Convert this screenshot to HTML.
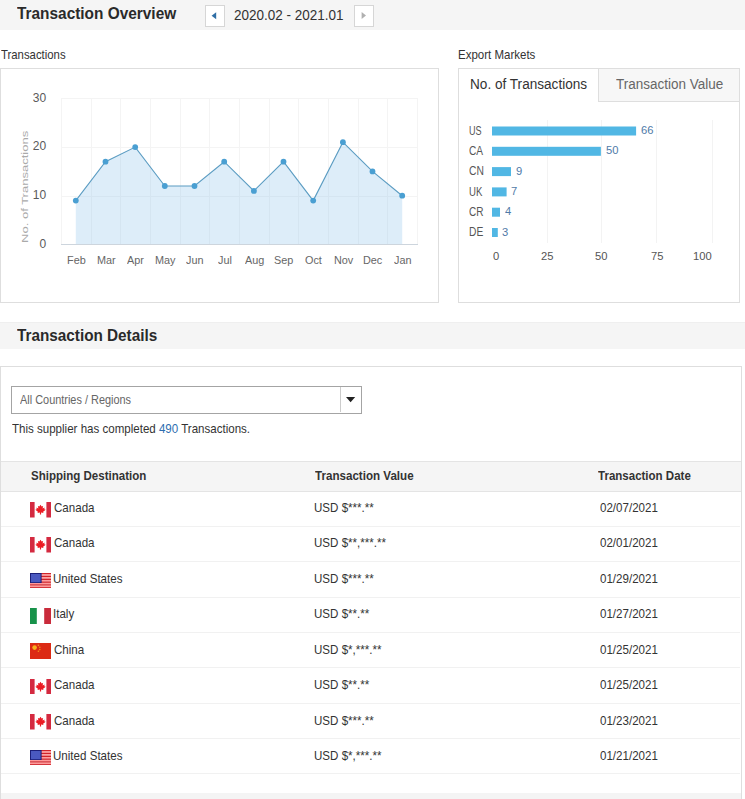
<!DOCTYPE html>
<html><head><meta charset="utf-8">
<style>
*{margin:0;padding:0;box-sizing:border-box}
html,body{width:745px;height:799px;overflow:hidden;background:#fff}
body{position:relative;font-family:"Liberation Sans",sans-serif;color:#333}
.tx{position:absolute;white-space:nowrap;line-height:1;transform-origin:0 0}
.bar{position:absolute;left:0;width:745px;background:#f5f5f5}
.box{position:absolute;border:1px solid #dedede;background:#fff}
.btn{position:absolute;width:20px;height:22px;border:1px solid #d6d6d6;background:#fff}
.row{position:absolute;left:1px;width:739px;height:1px;background:#f1f1f1}
</style></head><body>
<div class="bar" style="top:0;height:30px"></div>
<div class="btn" style="left:205px;top:5px"><svg width="18" height="20" style="position:absolute;left:0;top:0"><path d="M5.6 9.8 L10.2 6.2 L10.2 13.3 Z" fill="#2f6ea5"/></svg></div>
<div class="btn" style="left:354px;top:5px"><svg width="18" height="20" style="position:absolute;left:0;top:0"><path d="M11 9.5 L6.6 6 L6.6 13 Z" fill="#b0b0b0"/></svg></div>
<div class="box" style="left:0;top:68px;width:439px;height:235px"></div>
<svg style="position:absolute;left:0;top:0" width="745" height="320">
<g stroke="#f4f4f4" stroke-width="1"><line x1="61" y1="98.5" x2="418" y2="98.5"/><line x1="61" y1="147.5" x2="418" y2="147.5"/><line x1="61" y1="196.5" x2="418" y2="196.5"/><line x1="61.5" y1="98" x2="61.5" y2="244"/><line x1="91.5" y1="98" x2="91.5" y2="244"/><line x1="120.5" y1="98" x2="120.5" y2="244"/><line x1="150.5" y1="98" x2="150.5" y2="244"/><line x1="180.5" y1="98" x2="180.5" y2="244"/><line x1="209.5" y1="98" x2="209.5" y2="244"/><line x1="239.5" y1="98" x2="239.5" y2="244"/><line x1="269.5" y1="98" x2="269.5" y2="244"/><line x1="298.5" y1="98" x2="298.5" y2="244"/><line x1="328.5" y1="98" x2="328.5" y2="244"/><line x1="358.5" y1="98" x2="358.5" y2="244"/><line x1="387.5" y1="98" x2="387.5" y2="244"/><line x1="417.5" y1="98" x2="417.5" y2="244"/></g>
<polygon points="75.8,244 75.8,200.6 105.5,161.7 135.2,147.1 164.8,186.0 194.5,186.0 224.2,161.7 253.9,190.9 283.5,161.7 313.2,200.6 342.9,142.2 372.5,171.4 402.2,195.7 402.2,244" fill="rgba(124,186,232,0.26)"/>
<polyline points="75.8,200.6 105.5,161.7 135.2,147.1 164.8,186.0 194.5,186.0 224.2,161.7 253.9,190.9 283.5,161.7 313.2,200.6 342.9,142.2 372.5,171.4 402.2,195.7" fill="none" stroke="#5b9cc2" stroke-width="1.1"/>
<line x1="61" y1="244.5" x2="418" y2="244.5" stroke="#cdd5dd" stroke-width="1"/>
<g fill="#4a9fd2"><circle cx="75.8" cy="200.6" r="2.9"/><circle cx="105.5" cy="161.7" r="2.9"/><circle cx="135.2" cy="147.1" r="2.9"/><circle cx="164.8" cy="186.0" r="2.9"/><circle cx="194.5" cy="186.0" r="2.9"/><circle cx="224.2" cy="161.7" r="2.9"/><circle cx="253.9" cy="190.9" r="2.9"/><circle cx="283.5" cy="161.7" r="2.9"/><circle cx="313.2" cy="200.6" r="2.9"/><circle cx="342.9" cy="142.2" r="2.9"/><circle cx="372.5" cy="171.4" r="2.9"/><circle cx="402.2" cy="195.7" r="2.9"/></g>
</svg>
<div class="box" style="left:458px;top:68px;width:282px;height:235px"></div>
<div style="position:absolute;left:598px;top:68px;width:142px;height:34px;background:#f7f7f7;border:1px solid #dedede"></div>
<svg style="position:absolute;left:0;top:0" width="745" height="320">
<g stroke="#f3f3f3" stroke-width="1">
<line x1="547.5" y1="120" x2="547.5" y2="243"/><line x1="601.5" y1="120" x2="601.5" y2="243"/>
<line x1="656.5" y1="120" x2="656.5" y2="243"/><line x1="712.5" y1="120" x2="712.5" y2="243"/></g>
<g fill="#51b7e4"><rect x="492" y="126.5" width="144.1" height="9" /><rect x="492" y="146.8" width="108.9" height="9" /><rect x="492" y="167.1" width="19.0" height="9" /><rect x="492" y="187.4" width="14.6" height="9" /><rect x="492" y="207.7" width="8.0" height="9" /><rect x="492" y="228.0" width="5.8" height="9" /></g>
</svg>
<div class="bar" style="top:322px;height:27px;border-top:1px solid #efefef"></div>
<div class="box" style="left:0;top:366px;width:742px;height:440px"></div>
<div style="position:absolute;left:11px;top:386px;width:351px;height:28px;border:1px solid #a4a4a4;background:#fff"></div>
<div style="position:absolute;left:340px;top:387px;width:1px;height:25px;background:#cccccc"></div>
<svg style="position:absolute;left:346px;top:397px" width="10" height="6"><path d="M0 0 L9.2 0 L4.6 5.2 Z" fill="#222"/></svg>
<div style="position:absolute;left:1px;top:461px;width:740px;height:31px;background:#f5f5f5;border-top:1px solid #e4e4e4;border-bottom:1px solid #e4e4e4"></div>
<div class="row" style="top:526px"></div><div class="row" style="top:561px"></div><div class="row" style="top:597px"></div><div class="row" style="top:632px"></div><div class="row" style="top:667px"></div><div class="row" style="top:703px"></div><div class="row" style="top:738px"></div><div class="row" style="top:773px"></div>
<div style="position:absolute;left:30px;top:502.0px;width:21px;height:16px;line-height:0"><svg viewBox="0 0 21 15.5" width="21" height="15.5"><rect x="0" y="0" width="4.6" height="15.5" fill="#d42a40"/><rect x="16.4" y="0" width="4.6" height="15.5" fill="#d42a40"/><path d="M10.50 2.64 L11.68 4.53 L13.10 3.94 L12.62 6.42 L14.63 5.48 L14.28 7.25 L15.69 7.84 L13.10 9.72 L13.45 10.90 L11.09 10.55 L11.09 12.56 L9.91 12.56 L9.91 10.55 L7.55 10.90 L7.90 9.72 L5.31 7.84 L6.72 7.25 L6.37 5.48 L8.38 6.42 L7.90 3.94 L9.32 4.53 Z" fill="#ec1c24"/></svg></div><div style="position:absolute;left:30px;top:537.4px;width:21px;height:16px;line-height:0"><svg viewBox="0 0 21 15.5" width="21" height="15.5"><rect x="0" y="0" width="4.6" height="15.5" fill="#d42a40"/><rect x="16.4" y="0" width="4.6" height="15.5" fill="#d42a40"/><path d="M10.50 2.64 L11.68 4.53 L13.10 3.94 L12.62 6.42 L14.63 5.48 L14.28 7.25 L15.69 7.84 L13.10 9.72 L13.45 10.90 L11.09 10.55 L11.09 12.56 L9.91 12.56 L9.91 10.55 L7.55 10.90 L7.90 9.72 L5.31 7.84 L6.72 7.25 L6.37 5.48 L8.38 6.42 L7.90 3.94 L9.32 4.53 Z" fill="#ec1c24"/></svg></div><div style="position:absolute;left:30px;top:572.7px;width:21px;height:16px;line-height:0"><svg viewBox="0 0 21 15.5" width="21" height="15.5"><rect x="0" y="0.00" width="21" height="1.46" fill="#d0242a"/><rect x="0" y="1.41" width="21" height="1.46" fill="#ff9a9a"/><rect x="0" y="2.82" width="21" height="1.46" fill="#d0242a"/><rect x="0" y="4.23" width="21" height="1.46" fill="#ff9a9a"/><rect x="0" y="5.64" width="21" height="1.46" fill="#d0242a"/><rect x="0" y="7.05" width="21" height="1.46" fill="#ff9a9a"/><rect x="0" y="8.45" width="21" height="1.46" fill="#d0242a"/><rect x="0" y="9.86" width="21" height="1.46" fill="#ff9a9a"/><rect x="0" y="11.27" width="21" height="1.46" fill="#d0242a"/><rect x="0" y="12.68" width="21" height="1.46" fill="#ff9a9a"/><rect x="0" y="14.09" width="21" height="1.46" fill="#d0242a"/><rect x="0" y="0" width="11.6" height="10" fill="#1c1f78"/><rect x="1" y="1" width="9.6" height="8.2" fill="#4a59c0"/></svg></div><div style="position:absolute;left:30px;top:608.0px;width:21px;height:16px;line-height:0"><svg viewBox="0 0 21 16" width="21" height="16"><rect x="0" y="0" width="6.8" height="16" fill="#17924a"/><rect x="14.2" y="0" width="6.8" height="16" fill="#c92b3b"/></svg></div><div style="position:absolute;left:30px;top:643.4px;width:21px;height:16px;line-height:0"><svg viewBox="0 0 21 16" width="21" height="16"><rect x="0" y="0" width="21" height="16" fill="#dc2a14"/><circle cx="4.6" cy="4.6" r="2.3" fill="#f8b020"/><circle cx="8.4" cy="2.4" r="0.8" fill="#f0901a"/><circle cx="9.8" cy="4.2" r="0.8" fill="#f0901a"/><circle cx="9.8" cy="6.6" r="0.8" fill="#f0901a"/><circle cx="8.4" cy="8.2" r="0.8" fill="#f0901a"/></svg></div><div style="position:absolute;left:30px;top:678.8px;width:21px;height:16px;line-height:0"><svg viewBox="0 0 21 15.5" width="21" height="15.5"><rect x="0" y="0" width="4.6" height="15.5" fill="#d42a40"/><rect x="16.4" y="0" width="4.6" height="15.5" fill="#d42a40"/><path d="M10.50 2.64 L11.68 4.53 L13.10 3.94 L12.62 6.42 L14.63 5.48 L14.28 7.25 L15.69 7.84 L13.10 9.72 L13.45 10.90 L11.09 10.55 L11.09 12.56 L9.91 12.56 L9.91 10.55 L7.55 10.90 L7.90 9.72 L5.31 7.84 L6.72 7.25 L6.37 5.48 L8.38 6.42 L7.90 3.94 L9.32 4.53 Z" fill="#ec1c24"/></svg></div><div style="position:absolute;left:30px;top:714.1px;width:21px;height:16px;line-height:0"><svg viewBox="0 0 21 15.5" width="21" height="15.5"><rect x="0" y="0" width="4.6" height="15.5" fill="#d42a40"/><rect x="16.4" y="0" width="4.6" height="15.5" fill="#d42a40"/><path d="M10.50 2.64 L11.68 4.53 L13.10 3.94 L12.62 6.42 L14.63 5.48 L14.28 7.25 L15.69 7.84 L13.10 9.72 L13.45 10.90 L11.09 10.55 L11.09 12.56 L9.91 12.56 L9.91 10.55 L7.55 10.90 L7.90 9.72 L5.31 7.84 L6.72 7.25 L6.37 5.48 L8.38 6.42 L7.90 3.94 L9.32 4.53 Z" fill="#ec1c24"/></svg></div><div style="position:absolute;left:30px;top:749.5px;width:21px;height:16px;line-height:0"><svg viewBox="0 0 21 15.5" width="21" height="15.5"><rect x="0" y="0.00" width="21" height="1.46" fill="#d0242a"/><rect x="0" y="1.41" width="21" height="1.46" fill="#ff9a9a"/><rect x="0" y="2.82" width="21" height="1.46" fill="#d0242a"/><rect x="0" y="4.23" width="21" height="1.46" fill="#ff9a9a"/><rect x="0" y="5.64" width="21" height="1.46" fill="#d0242a"/><rect x="0" y="7.05" width="21" height="1.46" fill="#ff9a9a"/><rect x="0" y="8.45" width="21" height="1.46" fill="#d0242a"/><rect x="0" y="9.86" width="21" height="1.46" fill="#ff9a9a"/><rect x="0" y="11.27" width="21" height="1.46" fill="#d0242a"/><rect x="0" y="12.68" width="21" height="1.46" fill="#ff9a9a"/><rect x="0" y="14.09" width="21" height="1.46" fill="#d0242a"/><rect x="0" y="0" width="11.6" height="10" fill="#1c1f78"/><rect x="1" y="1" width="9.6" height="8.2" fill="#4a59c0"/></svg></div>
<div style="position:absolute;left:1px;top:793px;width:740px;height:10px;background:#f4f4f4"></div>
<div class="tx" style="left:27.7px;top:243.2px;font-size:9.8px;color:#aaaaaa;transform-origin:0 0;transform:rotate(-90deg) scaleX(1.33) translateY(-8.3px)">No. of Transactions</div>
<div class="tx" style="left:17.40px;top:6.06px;font-size:16px;font-weight:bold;color:#2a2a2a;transform:scaleX(0.9623)">Transaction Overview</div>
<div class="tx" style="left:234.30px;top:8.10px;font-size:14.3px;color:#333;transform:scaleX(0.9439)">2020.02 - 2021.01</div>
<div class="tx" style="left:1.10px;top:48.30px;font-size:13.0px;color:#333;transform:scaleX(0.8732)">Transactions</div>
<div class="tx" style="left:458.12px;top:48.00px;font-size:13.0px;color:#333;transform:scaleX(0.8848)">Export Markets</div>
<div class="tx" style="left:469.73px;top:76.95px;font-size:14px;color:#333;transform:scaleX(0.9711)">No. of Transactions</div>
<div class="tx" style="left:615.80px;top:76.95px;font-size:14px;color:#666;transform:scaleX(0.9633)">Transaction Value</div>
<div class="tx" style="left:17.10px;top:328.06px;font-size:16px;font-weight:bold;color:#2a2a2a;transform:scaleX(0.9556)">Transaction Details</div>
<div class="tx" style="left:20.10px;top:393.63px;font-size:12.6px;color:#666;transform:scaleX(0.8670)">All Countries / Regions</div>
<div class="tx" style="left:12.00px;top:422.40px;font-size:13.0px;color:#333;transform:scaleX(0.8879)">This supplier has completed <span style="color:#2d6db0">490</span> Transactions.</div>
<div class="tx" style="left:31.30px;top:469.10px;font-size:13.0px;font-weight:bold;color:#333;transform:scaleX(0.8866)">Shipping Destination</div>
<div class="tx" style="left:315.10px;top:469.10px;font-size:13.0px;font-weight:bold;color:#333;transform:scaleX(0.8920)">Transaction Value</div>
<div class="tx" style="left:598.20px;top:469.10px;font-size:13.0px;font-weight:bold;color:#333;transform:scaleX(0.8859)">Transaction Date</div>
<div class="tx" style="left:54.20px;top:500.90px;font-size:13.0px;color:#333;transform:scaleX(0.8900)">Canada</div>
<div class="tx" style="left:314.41px;top:500.90px;font-size:13.0px;color:#333;transform:scaleX(0.8900)">USD $***.**</div>
<div class="tx" style="left:599.80px;top:500.90px;font-size:13.0px;color:#333;transform:scaleX(0.8900)">02/07/2021</div>
<div class="tx" style="left:54.20px;top:536.37px;font-size:13.0px;color:#333;transform:scaleX(0.8900)">Canada</div>
<div class="tx" style="left:314.41px;top:536.37px;font-size:13.0px;color:#333;transform:scaleX(0.8900)">USD $**,***.**</div>
<div class="tx" style="left:599.80px;top:536.37px;font-size:13.0px;color:#333;transform:scaleX(0.8900)">02/01/2021</div>
<div class="tx" style="left:53.31px;top:571.84px;font-size:13.0px;color:#333;transform:scaleX(0.8900)">United States</div>
<div class="tx" style="left:314.41px;top:571.84px;font-size:13.0px;color:#333;transform:scaleX(0.8900)">USD $***.**</div>
<div class="tx" style="left:599.80px;top:571.84px;font-size:13.0px;color:#333;transform:scaleX(0.8900)">01/29/2021</div>
<div class="tx" style="left:53.31px;top:607.31px;font-size:13.0px;color:#333;transform:scaleX(0.8900)">Italy</div>
<div class="tx" style="left:314.41px;top:607.31px;font-size:13.0px;color:#333;transform:scaleX(0.8900)">USD $**.**</div>
<div class="tx" style="left:599.80px;top:607.31px;font-size:13.0px;color:#333;transform:scaleX(0.8900)">01/27/2021</div>
<div class="tx" style="left:54.20px;top:642.78px;font-size:13.0px;color:#333;transform:scaleX(0.8900)">China</div>
<div class="tx" style="left:314.41px;top:642.78px;font-size:13.0px;color:#333;transform:scaleX(0.8900)">USD $*,***.**</div>
<div class="tx" style="left:599.80px;top:642.78px;font-size:13.0px;color:#333;transform:scaleX(0.8900)">01/25/2021</div>
<div class="tx" style="left:54.20px;top:678.25px;font-size:13.0px;color:#333;transform:scaleX(0.8900)">Canada</div>
<div class="tx" style="left:314.41px;top:678.25px;font-size:13.0px;color:#333;transform:scaleX(0.8900)">USD $**.**</div>
<div class="tx" style="left:599.80px;top:678.25px;font-size:13.0px;color:#333;transform:scaleX(0.8900)">01/25/2021</div>
<div class="tx" style="left:54.20px;top:713.72px;font-size:13.0px;color:#333;transform:scaleX(0.8900)">Canada</div>
<div class="tx" style="left:314.41px;top:713.72px;font-size:13.0px;color:#333;transform:scaleX(0.8900)">USD $***.**</div>
<div class="tx" style="left:599.80px;top:713.72px;font-size:13.0px;color:#333;transform:scaleX(0.8900)">01/23/2021</div>
<div class="tx" style="left:53.31px;top:749.19px;font-size:13.0px;color:#333;transform:scaleX(0.8900)">United States</div>
<div class="tx" style="left:314.41px;top:749.19px;font-size:13.0px;color:#333;transform:scaleX(0.8900)">USD $*,***.**</div>
<div class="tx" style="left:599.80px;top:749.19px;font-size:13.0px;color:#333;transform:scaleX(0.8900)">01/21/2021</div>
<div class="tx" style="left:66.68px;top:255.01px;font-size:11.8px;color:#666;transform:scaleX(0.9200)">Feb</div>
<div class="tx" style="left:96.53px;top:255.01px;font-size:11.8px;color:#666;transform:scaleX(0.9200)">Mar</div>
<div class="tx" style="left:127.10px;top:255.01px;font-size:11.8px;color:#666;transform:scaleX(0.9200)">Apr</div>
<div class="tx" style="left:154.95px;top:255.01px;font-size:11.8px;color:#666;transform:scaleX(0.9200)">May</div>
<div class="tx" style="left:186.42px;top:255.01px;font-size:11.8px;color:#666;transform:scaleX(0.9200)">Jun</div>
<div class="tx" style="left:217.93px;top:255.01px;font-size:11.8px;color:#666;transform:scaleX(0.9200)">Jul</div>
<div class="tx" style="left:244.86px;top:255.01px;font-size:11.8px;color:#666;transform:scaleX(0.9200)">Aug</div>
<div class="tx" style="left:274.07px;top:255.01px;font-size:11.8px;color:#666;transform:scaleX(0.9200)">Sep</div>
<div class="tx" style="left:304.82px;top:255.01px;font-size:11.8px;color:#666;transform:scaleX(0.9200)">Oct</div>
<div class="tx" style="left:333.57px;top:255.01px;font-size:11.8px;color:#666;transform:scaleX(0.9200)">Nov</div>
<div class="tx" style="left:363.24px;top:255.01px;font-size:11.8px;color:#666;transform:scaleX(0.9200)">Dec</div>
<div class="tx" style="left:394.11px;top:255.01px;font-size:11.8px;color:#666;transform:scaleX(0.9200)">Jan</div>
<div class="tx" style="left:32.83px;top:91.74px;font-size:12px;color:#5a5a5a;transform:scaleX(1.0000)">30</div>
<div class="tx" style="left:32.83px;top:140.44px;font-size:12px;color:#5a5a5a;transform:scaleX(1.0000)">20</div>
<div class="tx" style="left:32.83px;top:189.34px;font-size:12px;color:#5a5a5a;transform:scaleX(1.0000)">10</div>
<div class="tx" style="left:39.50px;top:237.84px;font-size:12px;color:#5a5a5a;transform:scaleX(1.0000)">0</div>
<div class="tx" style="left:469.40px;top:124.73px;font-size:12.6px;color:#555;transform:scaleX(0.7195)">US</div>
<div class="tx" style="left:469.40px;top:145.03px;font-size:12.6px;color:#555;transform:scaleX(0.8013)">CA</div>
<div class="tx" style="left:469.40px;top:165.33px;font-size:12.6px;color:#555;transform:scaleX(0.8179)">CN</div>
<div class="tx" style="left:469.40px;top:185.63px;font-size:12.6px;color:#555;transform:scaleX(0.7626)">UK</div>
<div class="tx" style="left:469.40px;top:205.93px;font-size:12.6px;color:#555;transform:scaleX(0.7958)">CR</div>
<div class="tx" style="left:468.59px;top:226.23px;font-size:12.6px;color:#555;transform:scaleX(0.8139)">DE</div>
<div class="tx" style="left:640.67px;top:125.01px;font-size:11.8px;color:#4f7aa8;transform:scaleX(0.9500)">66</div>
<div class="tx" style="left:605.55px;top:145.31px;font-size:11.8px;color:#4f7aa8;transform:scaleX(0.9500)">50</div>
<div class="tx" style="left:515.55px;top:165.61px;font-size:11.8px;color:#4f7aa8;transform:scaleX(0.9500)">9</div>
<div class="tx" style="left:511.17px;top:185.91px;font-size:11.8px;color:#4f7aa8;transform:scaleX(0.9500)">7</div>
<div class="tx" style="left:504.58px;top:206.21px;font-size:11.8px;color:#4f7aa8;transform:scaleX(0.9500)">4</div>
<div class="tx" style="left:502.38px;top:226.51px;font-size:11.8px;color:#4f7aa8;transform:scaleX(0.9500)">3</div>
<div class="tx" style="left:492.57px;top:250.61px;font-size:11.8px;color:#555;transform:scaleX(0.9500)">0</div>
<div class="tx" style="left:540.66px;top:250.61px;font-size:11.8px;color:#555;transform:scaleX(0.9500)">25</div>
<div class="tx" style="left:595.26px;top:250.61px;font-size:11.8px;color:#555;transform:scaleX(0.9500)">50</div>
<div class="tx" style="left:650.96px;top:250.61px;font-size:11.8px;color:#555;transform:scaleX(0.9500)">75</div>
<div class="tx" style="left:692.78px;top:250.61px;font-size:11.8px;color:#555;transform:scaleX(0.9500)">100</div>
</body></html>
